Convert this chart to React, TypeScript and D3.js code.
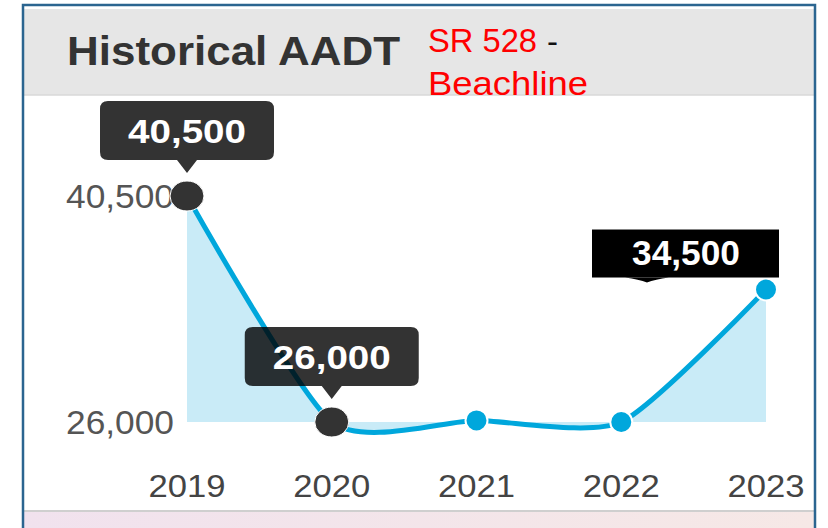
import React from "react";
import * as d3 from "d3";

// data
const years = ["2019", "2020", "2021", "2022", "2023"];
const aadt = [40500, 26000, 26100, 26000, 34500];
const yTicks = [26000, 40500];
// the three tooltips that are shown open
const tipYears = ["2019", "2020", "2023"];
const tipDx = [0, 0, -80];

const W = 828, H = 528;
const fmt = d3.format(",");

export default function App() {
  const x = d3.scalePoint<string>().domain(years).range([187, 766]);
  const y = d3.scaleLinear().domain([26000, 40500]).range([422, 196]);

  const pts = years.map((yr, i) => ({ yr, v: aadt[i] }));
  const curve = d3.curveCardinal.tension(0.35);
  const line = d3.line<any>().x(d => x(d.yr)!).y(d => y(d.v)).curve(curve);
  const area = d3.area<any>().x(d => x(d.yr)!).y0(y(26000)).y1(d => y(d.v)).curve(curve);

  const font = "Arial, 'Liberation Sans', sans-serif";

  return (
    <svg width={W} height={H} style={{ position: "absolute", left: 0, top: 0, background: "#fff" }}>
      <defs>
        <linearGradient id="band" x1="0" x2="1" y1="0" y2="0">
          <stop offset="0" stopColor="#f1e2ee" />
          <stop offset="1" stopColor="#f6e8e6" />
        </linearGradient>
      </defs>
      {/* panel */}
      <rect x={24} y={9} width={790} height={86} fill="#e6e6e6" />
      <line x1={24} x2={814} y1={95} y2={95} stroke="#d9d9d9" strokeWidth={1.5} />
      <rect x={24} y={511} width={790} height={20} fill="url(#band)" />
      <line x1={24} x2={814} y1={511} y2={511} stroke="#cfcfcf" strokeWidth={2} />
      <path d={`M23,${H + 5} V5 H815 V${H + 5}`} fill="none" stroke="#2b6590" strokeWidth={2.5} />

      {/* titles */}
      <text x={67} y={65} fontFamily={font} fontWeight="bold" fontSize={41} fill="#333"
        textLength={333} lengthAdjust="spacingAndGlyphs">Historical AADT</text>
      <text x={428} y={52} fontFamily={font} fontSize={33} fill="#ff0000"
        textLength={109} lengthAdjust="spacingAndGlyphs">SR 528</text>
      <text x={547} y={53} fontFamily={font} fontSize={33} fill="#111">-</text>
      <text x={428} y={95} fontFamily={font} fontSize={34} fill="#ff0000"
        textLength={160} lengthAdjust="spacingAndGlyphs">Beachline</text>

      {/* area + line */}
      <path d={area(pts)!} fill="#c9ebf7" />
      <path d={line(pts)!} fill="none" stroke="#00a7dc" strokeWidth={5} />

      {/* axes labels */}
      {yTicks.map(t => (
        <text key={t} x={174} y={y(t) + 12} textAnchor="end" fontFamily={font} fontSize={33}
          fill="#555" textLength={108} lengthAdjust="spacingAndGlyphs">{fmt(t)}</text>
      ))}
      {years.map(yr => (
        <text key={yr} x={x(yr)} y={497} textAnchor="middle" fontFamily={font} fontSize={32}
          fill="#444" textLength={77} lengthAdjust="spacingAndGlyphs">{yr}</text>
      ))}

      {/* markers */}
      {pts.map(d => tipYears.includes(d.yr) && d.yr !== "2023" ? (
        <ellipse key={d.yr} cx={x(d.yr)} cy={y(d.v)} rx={17} ry={15} fill="#333" stroke="#fff" strokeWidth={1} />
      ) : (
        <circle key={d.yr} cx={x(d.yr)} cy={y(d.v)} r={11} fill="#00a7dc" stroke="#fff" strokeWidth={2} />
      ))}

      {/* tooltips */}
      {tipYears.map((yr, i) => {
        const v = aadt[years.indexOf(yr)];
        const px = x(yr)!, py = y(v);
        if (yr === "2023") {
          const cx = px + tipDx[i];
          const top = py - 60, bot = py - 12;
          const ax = cx - 39;
          return (
            <g key={yr}>
              <rect x={cx - 94} y={top} width={187} height={bot - top} fill="#000" />
              <path d={`M${ax - 22},${bot} Q${ax - 8},${bot + 2} ${ax},${bot + 5} Q${ax + 8},${bot + 2} ${ax + 22},${bot} Z`} fill="#000" />
              <text x={cx} y={top + 35} textAnchor="middle" fontFamily={font} fontWeight="bold"
                fontSize={35} fill="#fff" textLength={108} lengthAdjust="spacingAndGlyphs">{fmt(v)}</text>
            </g>
          );
        }
        const top = py - 95, bot = py - 36;
        return (
          <g key={yr}>
            <path d={`M${px - 79},${top + 8} Q${px - 87},${top} ${px - 79},${top} H${px + 79} Q${px + 87},${top} ${px + 87},${top + 8} V${bot - 8} Q${px + 87},${bot} ${px + 79},${bot} H${px + 10} L${px},${bot + 13} L${px - 10},${bot} H${px - 79} Q${px - 87},${bot} ${px - 87},${bot - 8} V${top + 8} Q${px - 87},${top} ${px - 79},${top} Z`}
              fill="rgba(0,0,0,0.8)" />
            <text x={px} y={top + 42} textAnchor="middle" fontFamily={font} fontWeight="bold"
              fontSize={34} fill="#fff" textLength={118} lengthAdjust="spacingAndGlyphs">{fmt(v)}</text>
          </g>
        );
      })}
    </svg>
  );
}
